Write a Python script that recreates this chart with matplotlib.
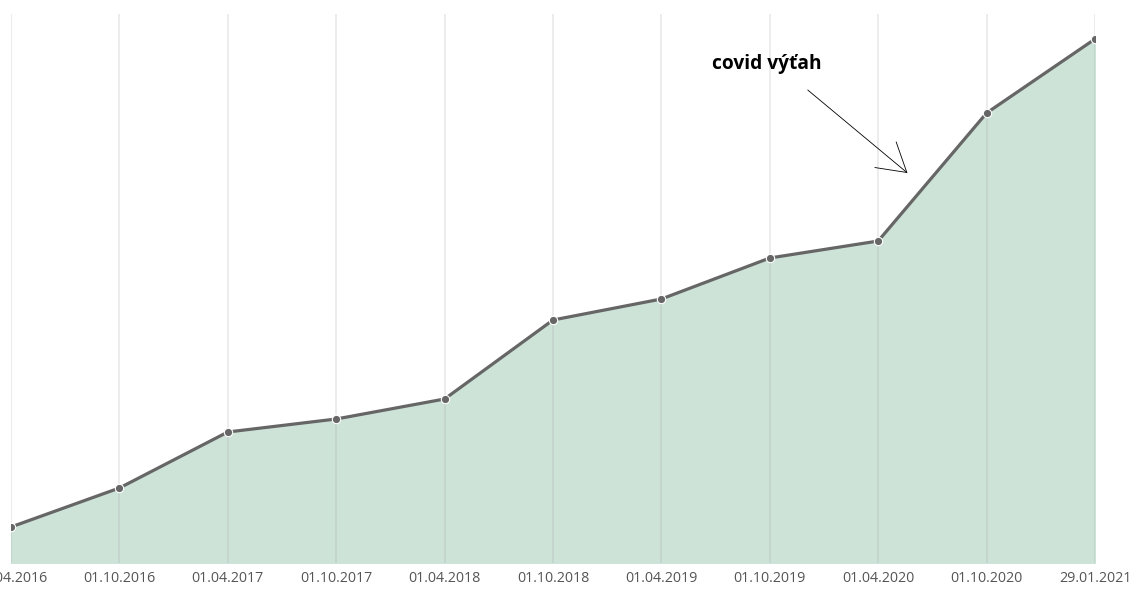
import numpy as np
import matplotlib.pyplot as plt

# Dates on the x axis (categorical, equally spaced)
dates = ['01.04.2016', '01.10.2016', '01.04.2017', '01.10.2017', '01.04.2018',
         '01.10.2018', '01.04.2019', '01.10.2019', '01.04.2020', '01.10.2020',
         '29.01.2021']
# Values (arbitrary units, no y axis shown)
values = [36, 75, 131, 144, 164, 243, 264, 305, 322, 450, 524]

x = np.arange(len(dates))

fig = plt.figure(figsize=(11.38, 6.04), dpi=100)
ax = fig.add_axes([11 / 1138, 41 / 604, 1084 / 1138, 549 / 604])

ax.fill_between(x, values, 0, color='#cde3d8', zorder=1)
for xi in x:
    ax.axvline(xi, color='#9a9a9a', alpha=0.22, lw=1.2, zorder=2)
ax.plot(x, values, color='#666666', lw=2.3, zorder=3)
ax.plot(x, values, 'o', color='#666666', ms=6, mec='white', mew=0.8, zorder=4)

ax.set_xlim(0, len(dates) - 1)
ax.set_ylim(0, 549)
ax.set_xticks(x)
ax.set_xticklabels(dates, fontsize=10.3, color='#555555', fontfamily='Open Sans')
ax.tick_params(axis='x', length=0, pad=6)
ax.set_yticks([])
for s in ax.spines.values():
    s.set_visible(False)

ax.text(6.97, 499, 'covid výťah', ha='center', va='center', fontsize=13.8,
        fontweight='bold', fontfamily='Open Sans', color='black')
ax.annotate('', xy=(8.27, 390), xytext=(7.35, 473),
            arrowprops=dict(arrowstyle='->,head_length=2.0,head_width=1.2',
                            mutation_scale=10, color='black', lw=0.6,
                            shrinkA=0, shrinkB=0))

plt.savefig('out.png', dpi=100)
